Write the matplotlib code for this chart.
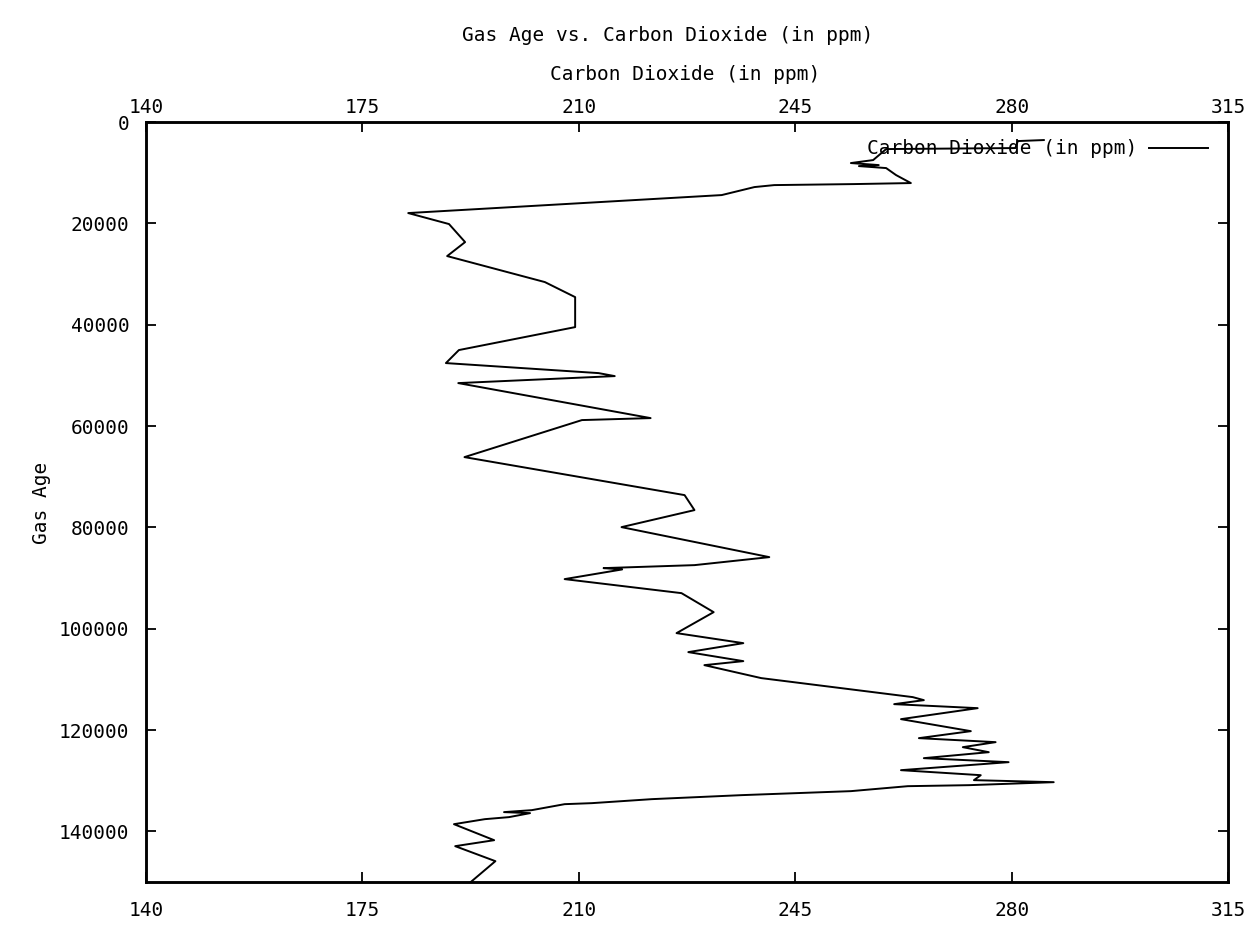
import matplotlib
matplotlib.use("Agg")
import matplotlib.pyplot as plt

# Vostok style record
co2_ppm = [285.2, 281.0, 280.6, 259.7, 257.6, 254.0, 258.5, 255.3, 259.7, 261.3,
           263.7, 254.5, 241.6, 238.4, 233.1, 182.4, 189.0, 191.6, 188.7, 204.5,
           209.4, 209.4, 190.6, 188.5, 213.2, 215.8, 190.5, 221.6, 210.5, 191.5,
           227.1, 228.7, 216.9, 240.8, 228.7, 214.0, 217.0, 207.7, 226.6, 231.8,
           225.8, 236.6, 227.7, 236.6, 230.3, 239.5, 264.0, 265.8, 261.0, 274.5,
           262.1, 273.4, 265.0, 277.4, 272.1, 276.3, 265.8, 279.5, 262.1, 275.0,
           273.9, 286.8, 273.1, 263.2, 254.0, 236.3, 221.8, 212.1, 207.7, 202.4,
           197.9, 202.1, 198.7, 194.8, 189.8, 196.3, 190.0, 196.5, 192.3]
gas_age = [3550, 3750, 5130, 5330, 7500, 8090, 8490, 8690, 9080, 10460,
           12040, 12240, 12440, 12830, 14410, 17960, 20130, 23690, 26450, 31580,
           34550, 40470, 45000, 47570, 49550, 50140, 51520, 58430, 58820, 66130,
           73630, 76590, 79950, 85870, 87450, 88040, 88300, 90210, 92980, 96730,
           100870, 102850, 104620, 106400, 107190, 109750, 113500, 114100, 114890, 115680,
           117850, 120220, 121600, 122390, 123380, 124370, 125550, 126340, 127920, 128910,
           129890, 130290, 130880, 131080, 132060, 132850, 133640, 134430, 134630, 135810,
           136200, 136400, 137190, 137590, 138580, 141740, 142920, 145880, 150220]

x_ticks = [140, 175, 210, 245, 280, 315]
y_ticks = [0, 20000, 40000, 60000, 80000, 100000, 120000, 140000]

font = "DejaVu Sans Mono"
fs = 14

fig = plt.figure(figsize=(12.58, 9.47), dpi=100)
ax = fig.add_axes([0.1161, 0.0686, 0.8601, 0.8025])

ax.plot(co2_ppm, gas_age, color="black", lw=1.4, label="Carbon Dioxide (in ppm)")

ax.set_xlim(140, 315)
ax.set_ylim(150000, 0)
ax.set_xticks(x_ticks)
ax.set_yticks(y_ticks)
ax.tick_params(direction="in", length=7, width=1.3, top=True, right=True,
               labeltop=False, labelbottom=True)
ax.tick_params(axis="x", pad=14)
ax.tick_params(axis="y", pad=12)
for sp in ax.spines.values():
    sp.set_linewidth(1.8)

# top scale gets its own labels so it can sit closer to the frame
top = ax.twiny()
top.set_xlim(ax.get_xlim())
top.set_xticks(x_ticks)
top.tick_params(direction="in", length=7, width=1.3, pad=4)
for sp in top.spines.values():
    sp.set_linewidth(1.8)

for lab in ax.get_xticklabels() + ax.get_yticklabels() + top.get_xticklabels():
    lab.set_fontfamily(font)
    lab.set_fontsize(fs)

fig.text(0.531, 0.963, "Gas Age vs. Carbon Dioxide (in ppm)", ha="center", va="center",
         family=font, fontsize=fs)
fig.text(0.545, 0.921, "Carbon Dioxide (in ppm)", ha="center", va="center",
         family=font, fontsize=fs)
fig.text(0.033, 0.469, "Gas Age", ha="center", va="center", rotation=90,
         family=font, fontsize=fs)

ax.legend(loc="upper right", bbox_to_anchor=(0.99, 0.99), frameon=False,
          markerfirst=False, handlelength=3.0, handletextpad=0.6, borderpad=0,
          prop={"family": font, "size": fs})

fig.savefig("out.png", dpi=100, facecolor="white")
